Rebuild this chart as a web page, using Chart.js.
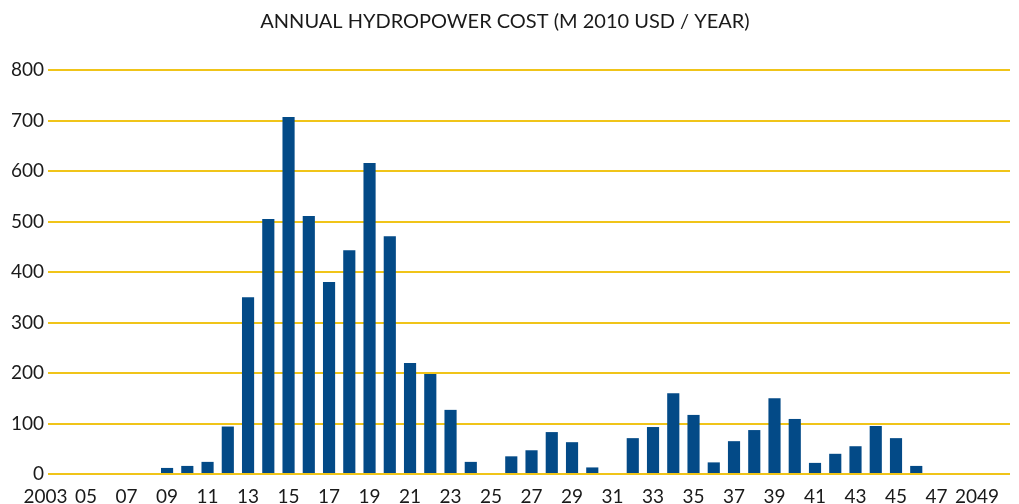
<!DOCTYPE html>
<html>
<head>
<meta charset="utf-8">
<script src="https://cdn.jsdelivr.net/npm/chart.js@4/dist/chart.umd.min.js"></script>
<style>
  html, body { margin: 0; padding: 0; background: #ffffff; }
  #wrap { width: 1019px; height: 504px; position: relative; }
</style>
</head>
<body>
<div id="wrap"><canvas id="c"></canvas></div>
<script>
const years = [];
for (let y = 2003; y <= 2049; y++) years.push(y);
const costs = [0, 0, 0, 0, 0, 0, 12, 16, 24, 94, 350, 505, 707, 511, 380, 443, 616, 471, 220, 198,
               127, 24, 0, 35, 47, 83, 63, 13, 0, 71, 93, 160, 117, 23, 65, 87, 150, 109, 22, 40,
               55, 95, 71, 16, 0, 0, 0];
const tickYears = [2003, 2005, 2007, 2009, 2011, 2013, 2015, 2017, 2019, 2021, 2023, 2025,
                   2027, 2029, 2031, 2033, 2035, 2037, 2039, 2041, 2043, 2045, 2047, 2049];
const tickLabels = ["2003", "05", "07", "09", "11", "13", "15", "17", "19", "21", "23", "25",
                    "27", "29", "31", "33", "35", "37", "39", "41", "43", "45", "47", "2049"];
const yTicks = [0, 100, 200, 300, 400, 500, 600, 700, 800];
const titleText = "ANNUAL HYDROPOWER COST (M 2010 USD / YEAR)";

const points = years.map((y, i) => ({ x: y, y: costs[i] }));

new Chart(document.getElementById('c'), {
  type: 'bar',
  data: {
    datasets: [{
      data: points,
      backgroundColor: '#034a87',
      borderWidth: 0,
      barPercentage: 0.6,
      categoryPercentage: 1.0
    }]
  },
  options: {
    responsive: true,
    maintainAspectRatio: false,
    animation: false,
    layout: { padding: { left: 0, right: 9, top: 0, bottom: 0 } },
    plugins: {
      legend: { display: false },
      tooltip: { enabled: false },
      title: {
        display: true,
        text: titleText,
        color: '#1a1a1a',
        font: { family: 'Lato', size: 20, weight: 'normal' },
        padding: { top: 10, bottom: 36 }
      }
    },
    scales: {
      x: {
        type: 'linear',
        offset: false,
        min: 2003.12,
        max: 2050.63,
        grid: { display: false, offset: false, drawTicks: false },
        border: { display: false },
        afterBuildTicks: (scale) => { scale.ticks = tickYears.map(v => ({ value: v })); },
        afterFit: (scale) => { scale.height = 30; },
        ticks: {
          autoSkip: false,
          maxRotation: 0,
          padding: 11,
          color: '#1a1a1a',
          font: { family: 'Lato', size: 19 },
          callback: (v) => { const i = tickYears.indexOf(v); return i >= 0 ? tickLabels[i] : ''; }
        }
      },
      y: {
        min: 0,
        max: 800,
        afterBuildTicks: (scale) => { scale.ticks = yTicks.map(v => ({ value: v })); },
        afterFit: (scale) => { scale.width = 48; },
        grid: { color: '#f0c419', lineWidth: 2, drawTicks: false },
        border: { display: false },
        ticks: {
          padding: 4,
          color: '#1a1a1a',
          font: { family: 'Lato', size: 19 }
        }
      }
    }
  }
});
</script>
</body>
</html>
